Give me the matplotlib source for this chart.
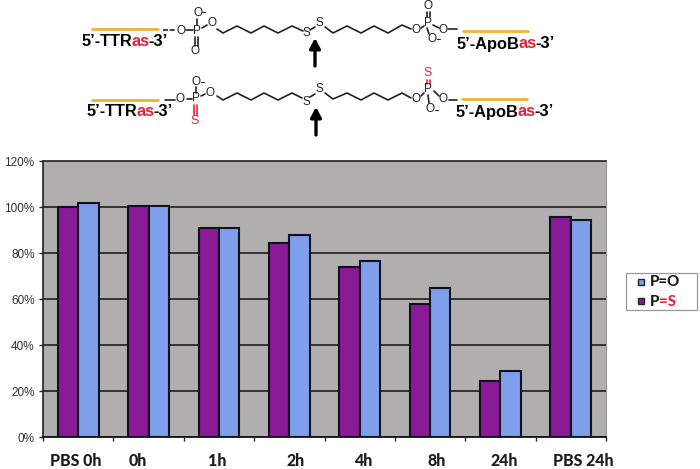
import numpy as np
import matplotlib
matplotlib.use("Agg")
import matplotlib.pyplot as plt
from matplotlib.patches import Rectangle

# chart data
categories = ["PBS 0h", "0h", "1h", "2h", "4h", "8h", "24h", "PBS 24h"]
p_s = [100, 100.5, 91, 84.5, 74, 58, 24.5, 95.5]
p_o = [101.7, 100.5, 91, 88, 76.5, 65, 28.5, 94.5]
y_ticks = [0, 20, 40, 60, 80, 100, 120]
# labels don't sit centred on the groups in the original
label_x = [76, 138, 217, 296, 363, 437, 504, 583]

PURPLE = "#8B1A96"
BLUE = "#7F9EEC"
GREY = "#B0AEAE"
ORANGE = "#F2B233"
RED = "#E8213A"
DARK = "#141414"

W, H = 700, 469
fig = plt.figure(figsize=(7, 4.69), dpi=100)

ax = fig.add_axes([43 / W, (H - 437) / H, 563 / W, 276 / H])
ax.set_facecolor(GREY)
x = np.arange(len(categories))
bw = 0.29
ax.bar(x - bw / 2, p_s, bw, color=PURPLE, edgecolor="#10101c", linewidth=1.5, zorder=3)
ax.bar(x + bw / 2, p_o, bw, color=BLUE, edgecolor="#10101c", linewidth=1.5, zorder=3)
ax.set_xlim(-0.5, len(categories) - 0.5)
ax.set_ylim(0, 120)
ax.set_yticks(y_ticks)
ax.set_yticklabels(["{}%".format(v) for v in y_ticks], family="Liberation Sans", fontsize=8.5, color="#333333")
ax.set_xticks(np.arange(len(categories) + 1) - 0.5)
ax.set_xticklabels([])
ax.tick_params(length=3, width=1, color="#222222", pad=3)
ax.grid(axis="y", color=DARK, linewidth=1.1, zorder=1)
ax.set_axisbelow(True)
ax.spines["top"].set_color("#333333")
ax.spines["top"].set_linewidth(1.3)
ax.spines["right"].set_color("#999999")
ax.spines["left"].set_color("#222222")
ax.spines["left"].set_linewidth(1.2)
ax.spines["bottom"].set_color(DARK)
ax.spines["bottom"].set_linewidth(1.3)

# overlay in pixel coordinates for the molecule drawing and legend
ov = fig.add_axes([0, 0, 1, 1], zorder=5)
ov.set_xlim(0, W)
ov.set_ylim(H, 0)
ov.axis("off")
ov.patch.set_alpha(0)

for name, lx in zip(categories, label_x):
    ov.text(lx, 461, name, family="Lato", weight="black", fontsize=11.5, ha="center", va="center", color="#1c1c1c")


def pieces(px, py, parts, size, gap=-1.2, **kw):
    rend = fig.canvas.get_renderer()
    for s, col in parts:
        t = ov.text(px, py, s, color=col, fontsize=size, va="center", ha="left", **kw)
        px += t.get_window_extent(rend).width + gap


def line(xs, ys, col="#222222", lw=1.2, **kw):
    ov.plot(xs, ys, color=col, lw=lw, solid_capstyle="round", **kw)


def atom(px, py, s, col="#222222", size=8.5):
    ov.text(px, py, s, color=col, fontsize=size, ha="center", va="center", family="Liberation Sans")


head = dict(family="Liberation Sans", weight="bold")
HEAD_SIZE = 11.8

# top molecule
line([92, 158], [29, 29], ORANGE, 2)
pieces(82, 41, [("5’-TTR", "black"), ("as", RED), ("-3’", "black")], HEAD_SIZE, **head)
line([163, 175], [30, 30], ls=(0, (3, 1)))
atom(181, 31, "O")
line([186, 193], [30, 30])
atom(197, 31, "P")
line([197, 197], [25, 19])
atom(198, 13, "O")
line([202, 205], [12, 12], lw=0.8)
line([195, 195], [37, 46])
line([198, 198], [37, 46])
atom(195, 51, "O")
line([202, 207], [28, 25])
atom(212, 23, "O")
line([217, 223, 237, 251, 264, 278, 292, 303], [29, 33, 26, 33, 26, 33, 26, 31])
atom(306, 33, "S")
line([310, 315], [30, 27])
atom(319, 23, "S")
line([325, 333, 347, 361, 374, 388, 402, 411], [27, 33, 26, 33, 26, 33, 25, 29])
atom(416, 30, "O")
line([421, 424], [28, 26])
atom(428, 23, "P")
line([427, 427], [12, 17])
line([430, 430], [12, 17])
atom(428, 6, "O")
line([427, 429], [28, 34])
atom(432, 39, "O")
line([437, 440], [39, 39], lw=0.8)
line([433, 439], [25, 28])
atom(443, 30, "O")
line([448, 457], [29, 29])
line([463, 528], [31, 31], ORANGE, 2)
pieces(457, 44, [("5’-ApoB", "black"), ("as", RED), ("-3’", "black")], HEAD_SIZE, **head)

# bottom molecule
line([92, 158], [100, 100], ORANGE, 2)
pieces(87, 111, [("5’-TTR", "black"), ("as", RED), ("-3’", "black")], HEAD_SIZE, **head)
line([165, 175], [100, 100])
atom(180, 99, "O")
line([187, 192], [99, 99])
atom(196, 98, "P")
line([196, 196], [87, 93])
atom(196, 82, "O")
line([201, 204], [82, 82], lw=0.8)
line([194, 194], [105, 115], RED)
line([197, 197], [105, 115], RED)
atom(195, 121, "S", RED, 9)
line([201, 205], [96, 94])
atom(210, 93, "O")
line([217, 223, 237, 251, 264, 278, 292, 302], [96, 100, 93, 100, 93, 100, 93, 98])
atom(306, 102, "S")
line([310, 315], [97, 94])
atom(319, 89, "S")
line([325, 333, 347, 361, 374, 388, 402, 411], [93, 99, 93, 100, 93, 100, 93, 98])
atom(416, 99, "O")
line([421, 424], [96, 93])
atom(428, 89, "P")
line([427, 427], [80, 84], RED)
line([430, 430], [80, 84], RED)
atom(428, 73, "S", RED, 9)
line([428, 429], [95, 103])
atom(430, 109, "O")
line([435, 438], [110, 110], lw=0.8)
line([434, 439], [91, 96])
atom(443, 99, "O")
line([449, 457], [100, 100])
line([462, 527], [99, 99], ORANGE, 2)
pieces(456, 112, [("5’-ApoB", "black"), ("as", RED), ("-3’", "black")], HEAD_SIZE, **head)

# cleavage arrows
for ax_x, y0, y1 in [(315, 66, 38), (316, 135, 107)]:
    ov.annotate("", xy=(ax_x, y1), xytext=(ax_x, y0),
                arrowprops=dict(arrowstyle="-|>,head_width=0.32,head_length=0.6", color="black", lw=2.4, shrinkA=0, shrinkB=0))

# legend, drawn by hand because of the red =S
ov.add_patch(Rectangle((626, 273), 71, 37, facecolor="white", edgecolor="#9a9a9a", lw=0.9))
ov.add_patch(Rectangle((638, 279), 6, 6, facecolor=BLUE, edgecolor="#223", lw=1))
ov.add_patch(Rectangle((638, 298), 6, 6, facecolor=PURPLE, edgecolor="#223", lw=1))
pieces(650, 282, [("P=O", "#1c1c1c")], 10.8, gap=0, family="Lato", weight="black")
pieces(650, 302, [("P", "#1c1c1c"), ("=S", RED)], 10.8, gap=0, family="Lato", weight="black")

fig.savefig("out.png", dpi=100)
